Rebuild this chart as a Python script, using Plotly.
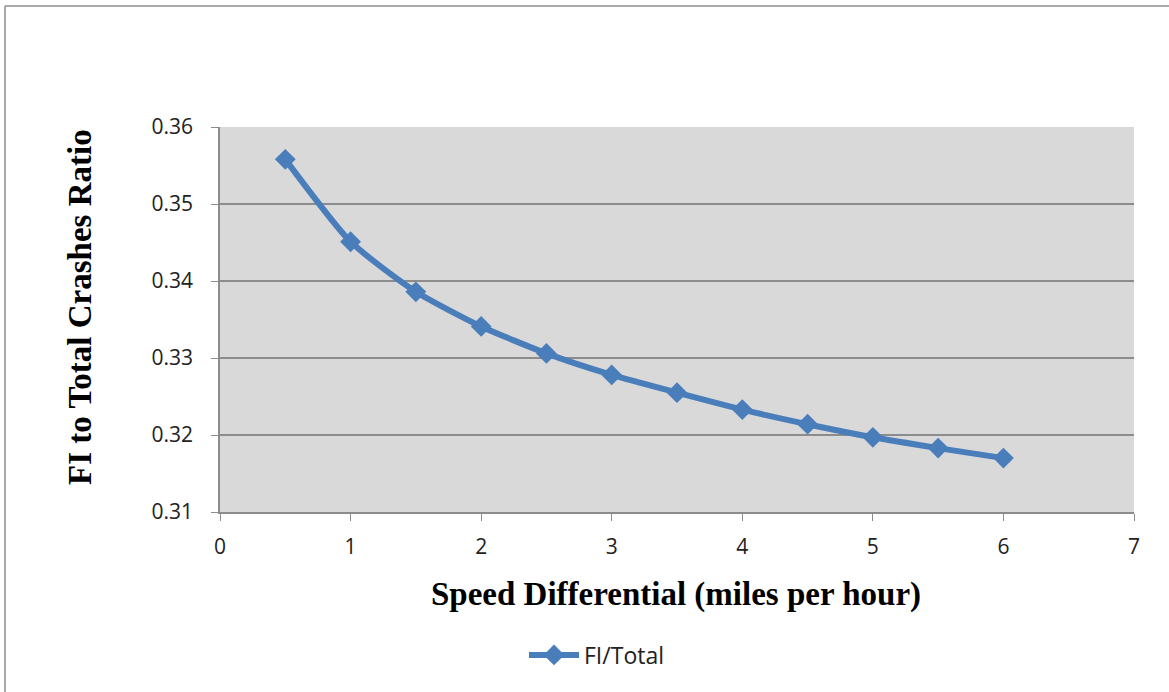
import plotly.graph_objects as go

speed = [0.5, 1, 1.5, 2, 2.5, 3, 3.5, 4, 4.5, 5, 5.5, 6]
ratio = [0.3558, 0.3451, 0.3386, 0.3341, 0.3306, 0.3278, 0.3255, 0.3233, 0.3214, 0.3197, 0.3183, 0.3170]
series_name = "FI/Total"
x_title = "Speed Differential (miles per hour)"
y_title = "FI to Total Crashes Ratio"

L, R, T, B = 220, 35, 127, 180
W, H = 1169, 692
pw, ph = W - L - R, H - T - B

fig = go.Figure()
fig.add_trace(go.Scatter(
    x=speed, y=ratio, name=series_name, mode="lines+markers",
    line=dict(color="#4A7EBB", width=6, shape="spline", smoothing=0.6),
    marker=dict(symbol="diamond", size=16, color="#4A7EBB"),
))

grid = "#8C8C8C"
tickfont = dict(family="Open Sans, sans-serif", size=21, color="#222")
fig.update_layout(
    width=W, height=H,
    margin=dict(l=L, r=R, t=T, b=B, autoexpand=False),
    paper_bgcolor="white", plot_bgcolor="#D9D9D9",
    showlegend=True,
    legend=dict(orientation="h", x=(524 - L) / pw, xanchor="left", y=(0 - (655 - 512)) / ph,
                yanchor="middle", font=dict(family="Open Sans, sans-serif", size=23, color="#222"),
                bgcolor="rgba(0,0,0,0)", itemwidth=50),
    xaxis=dict(range=[0, 7], dtick=1, tick0=0, showgrid=False, zeroline=False,
               showline=True, linecolor=grid, linewidth=1.5,
               ticks="outside", ticklen=7, tickcolor=grid, tickfont=tickfont,
               ticklabelstandoff=8),
    yaxis=dict(range=[0.31, 0.36], dtick=0.01, tick0=0.31, tickformat=".2f",
               showgrid=True, gridcolor=grid, gridwidth=1.5, zeroline=False,
               showline=True, linecolor=grid, linewidth=1.5,
               ticks="outside", ticklen=7, tickcolor=grid, tickfont=tickfont,
               ticklabelstandoff=14),
    annotations=[
        dict(text="<b>" + y_title + "</b>", xref="paper", yref="paper", x=(80 - L) / pw,
             y=(H - B - 307) / ph, textangle=-90, showarrow=False, xanchor="center", yanchor="middle",
             font=dict(family="Liberation Serif, Times New Roman, serif", size=33, color="black")),
        dict(text="<b>" + x_title + "</b>", xref="paper", yref="paper", x=(676 - L) / pw,
             y=(H - B - 594) / ph, showarrow=False, xanchor="center", yanchor="middle",
             font=dict(family="Liberation Serif, Times New Roman, serif", size=33, color="black")),
    ],
    shapes=[
        dict(type="line", xref="paper", yref="paper", x0=(5 - L) / pw, x1=(W + 10 - L) / pw,
             y0=(H - B - 6) / ph, y1=(H - B - 6) / ph, line=dict(color="#8C8C8C", width=1.5)),
        dict(type="line", xref="paper", yref="paper", x0=(5 - L) / pw, x1=(5 - L) / pw,
             y0=(H - B - 6) / ph, y1=(H - B - H - 10) / ph, line=dict(color="#8C8C8C", width=1.5)),
    ],
)
fig.write_html("out.html")
